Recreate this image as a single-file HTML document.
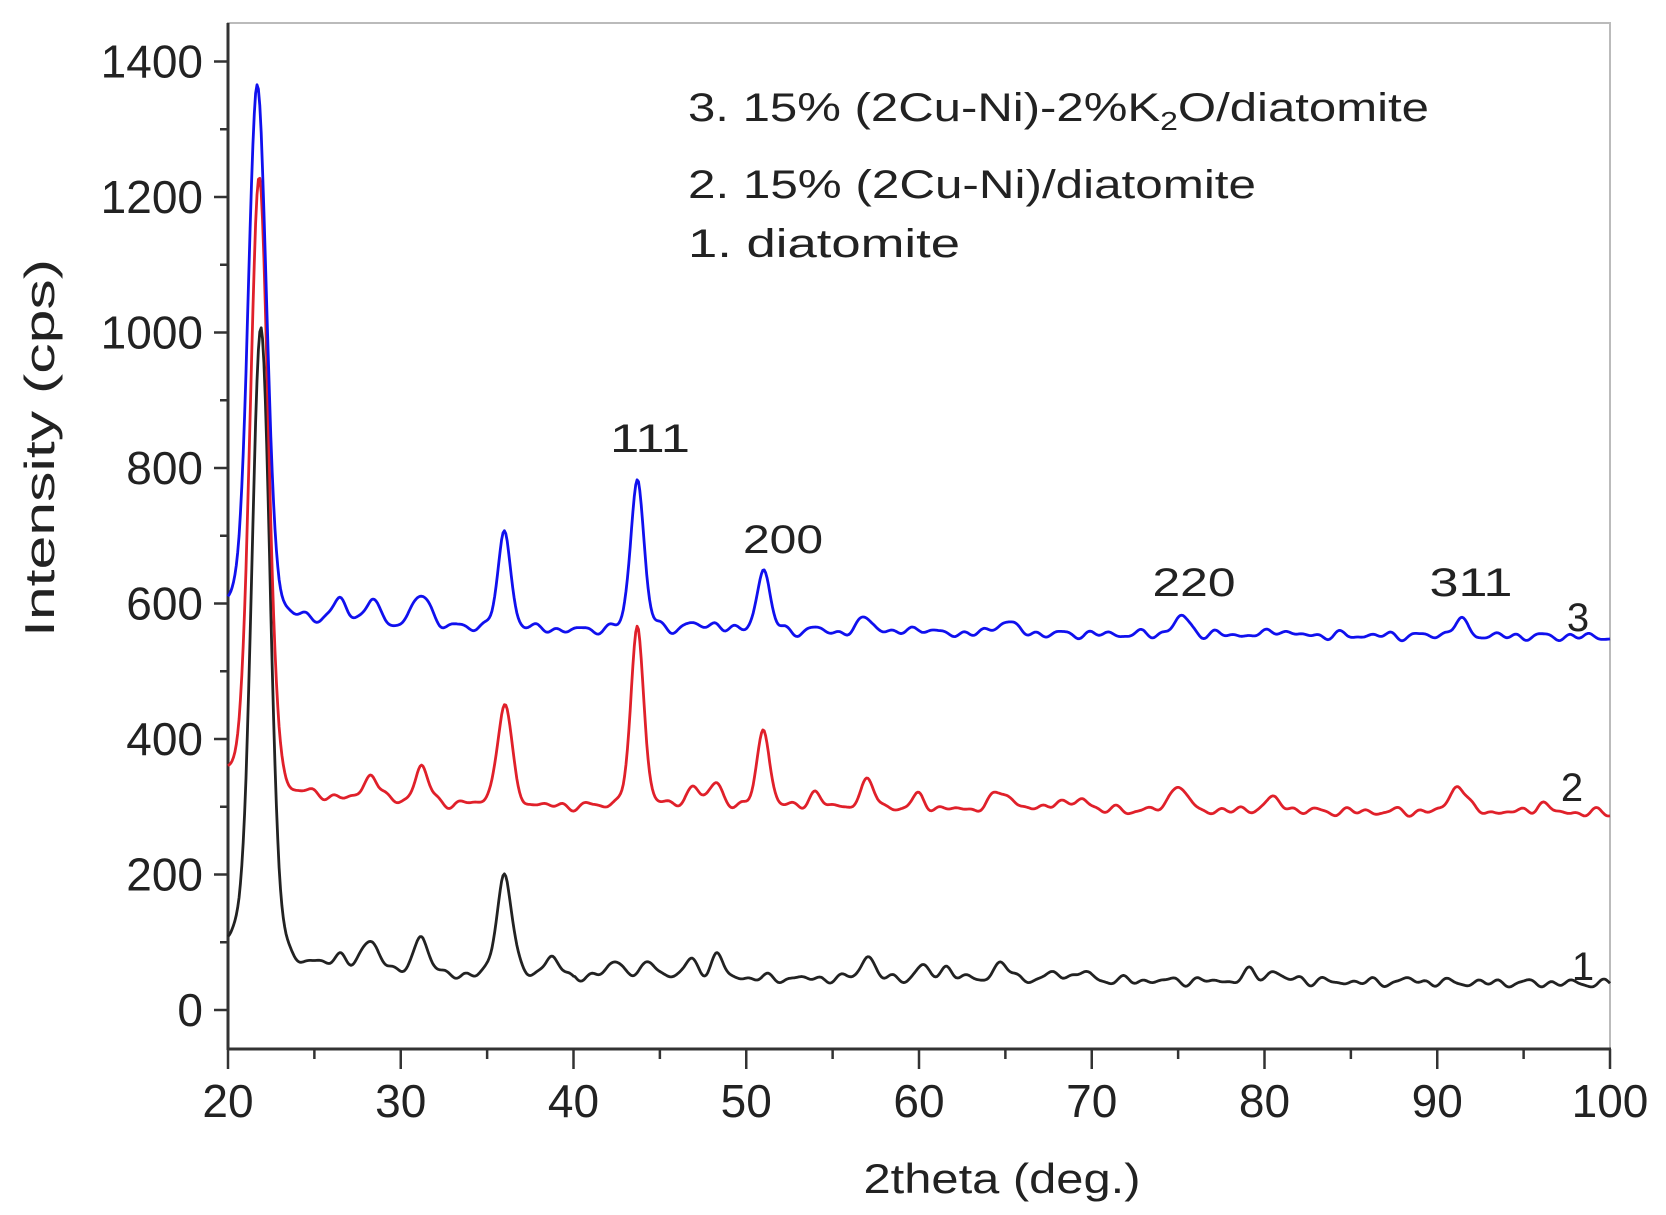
<!DOCTYPE html>
<html><head><meta charset="utf-8"><style>
html,body{margin:0;padding:0;background:#fff;}
svg{display:block;font-family:"Liberation Sans",Arial,sans-serif;}
</style></head><body>
<svg id="s" width="1666" height="1215" viewBox="0 0 1666 1215" xmlns="http://www.w3.org/2000/svg">
<rect width="1666" height="1215" fill="#fff"/>
<rect x="228" y="23" width="1382" height="1026" fill="none" stroke="#bbb" stroke-width="2"/>
<line x1="228" y1="23" x2="228" y2="1050" stroke="#333" stroke-width="3"/>
<line x1="227" y1="1049" x2="1611" y2="1049" stroke="#333" stroke-width="3"/>
<g id="ticks" stroke="#333" stroke-width="2.5"></g>
<g id="lbl" font-size="46" fill="#222"></g>
<g id="curves" fill="none" stroke-width="2.8" stroke-linejoin="round"></g>
<g font-size="40" fill="#222" lengthAdjust="spacingAndGlyphs">
<text x="688" y="121" textLength="741" lengthAdjust="spacingAndGlyphs">3. 15% (2Cu-Ni)-2%K<tspan font-size="26" dy="9">2</tspan><tspan dy="-9">O/diatomite</tspan></text>
<text x="688" y="198" textLength="568" lengthAdjust="spacingAndGlyphs">2. 15% (2Cu-Ni)/diatomite</text>
<text x="688" y="257" textLength="272" lengthAdjust="spacingAndGlyphs">1.  diatomite</text>
</g>
<g font-size="40" fill="#222" text-anchor="middle">
<text x="650" y="452" textLength="80" lengthAdjust="spacingAndGlyphs">111</text>
<text x="783" y="553" textLength="80" lengthAdjust="spacingAndGlyphs">200</text>
<text x="1194" y="596" textLength="83" lengthAdjust="spacingAndGlyphs">220</text>
<text x="1471" y="596" textLength="83" lengthAdjust="spacingAndGlyphs">311</text>
<text x="1578" y="631">3</text>
<text x="1572" y="801">2</text>
<text x="1583" y="980">1</text>
<text x="1002" y="1193" font-size="42" textLength="277" lengthAdjust="spacingAndGlyphs">2theta (deg.)</text>
<text transform="translate(54,448) rotate(-90)" font-size="42" textLength="378" lengthAdjust="spacingAndGlyphs">Intensity (cps)</text>
</g>
</svg>
<script>
var NS="http://www.w3.org/2000/svg";
function px(x){return 228+(x-20)*1382/80;}
function py(v){return 1010-v*0.6775;}
function el(p,t,a,txt){var e=document.createElementNS(NS,t);for(var k in a)e.setAttribute(k,a[k]);if(txt!==undefined)e.textContent=txt;p.appendChild(e);return e;}
var T=document.getElementById('ticks'),L=document.getElementById('lbl');
for(var v=0;v<=1400;v+=100){var y=py(v);var maj=v%200==0;el(T,'line',{x1:228-(maj?14:8),x2:228,y1:y,y2:y});
 if(maj)el(L,'text',{x:203,y:y+16,'text-anchor':'end'},String(v));}
for(var x=20;x<=100;x+=5){var X=px(x);var maj=x%10==0;el(T,'line',{x1:X,x2:X,y1:1049,y2:1049+(maj?20:10)});
 if(maj)el(L,'text',{x:X,y:1117,'text-anchor':'middle'},String(x));}
function pk(x,c,h,w,lf){var d=(x-c)/w;if(lf===undefined)lf=0.5;return h*(lf/(1+d*d)+(1-lf)*Math.exp(-d*d*0.69));}
function series(base,main,peaks,seed){
 var pts=[];for(var x=20;x<=100.001;x+=0.08){
  var b=base(x);var v=b;
  v+=pk(x,main[0],main[1]-b,main[2],0.08);
  for(var i=0;i<peaks.length;i++)v+=pk(x,peaks[i][0],peaks[i][1]-b,peaks[i][2]||0.45,0.3);
  v+=3*Math.sin(x*4.3+seed)+3*Math.sin(x*2.7+seed*2)+2*Math.sin(x*6.1+seed*3);
  pts.push(px(x).toFixed(1)+','+py(v).toFixed(1));}
 return 'M'+pts.join('L');}
var C=document.getElementById('curves');
var b1=function(x){return x<40?45+30*Math.exp(-(x-23.5)/5):48-(x-40)*0.15;};
var d1=series(b1,[21.9,1010,0.62],[[26.5,80],[28.3,100,0.6],[31.2,112],[36,205,0.5],[38.7,80],[42.5,70,0.6],[44.5,70],[46.8,72],[48.3,78],[57,80],[60.2,62],[61.6,62],[64.8,66,0.6],[68,56],[69.5,56],[79.2,56],[80.5,56],[82,46],[88.5,45]],1);
var b2=function(x){return 298+25*Math.exp(-(x-23)/5)-(x-40)*0.12;};
var d2=series(b2,[21.8,1225,0.62],[[28.3,350],[31.2,360],[36,450,0.5],[43.7,560,0.45],[47,330],[48.3,330],[51,410,0.45],[54,320],[57,335,0.55],[60,315],[64.8,322,0.7],[68,310],[69.5,312],[75,335,0.5],[80.5,310,0.7],[91.2,335,0.5],[96,305]],2);
var b3=function(x){return 558+20*Math.exp(-(x-24)/6)-(x-40)*0.12;};
var d3=series(b3,[21.7,1360,0.62],[[26.5,605],[28.3,605],[31.2,612,0.6],[36,702,0.45],[43.7,785,0.45],[46.8,570],[48.3,570],[51,650,0.45],[54,562],[57,578,0.55],[60,565],[65,575,0.6],[75.2,580,0.55],[80.8,562],[91.3,575,0.5]],3);
el(C,'path',{d:d1,stroke:'#222'});
el(C,'path',{d:d2,stroke:'#e0202a'});
el(C,'path',{d:d3,stroke:'#1010ee'});
</script>
</body></html>
